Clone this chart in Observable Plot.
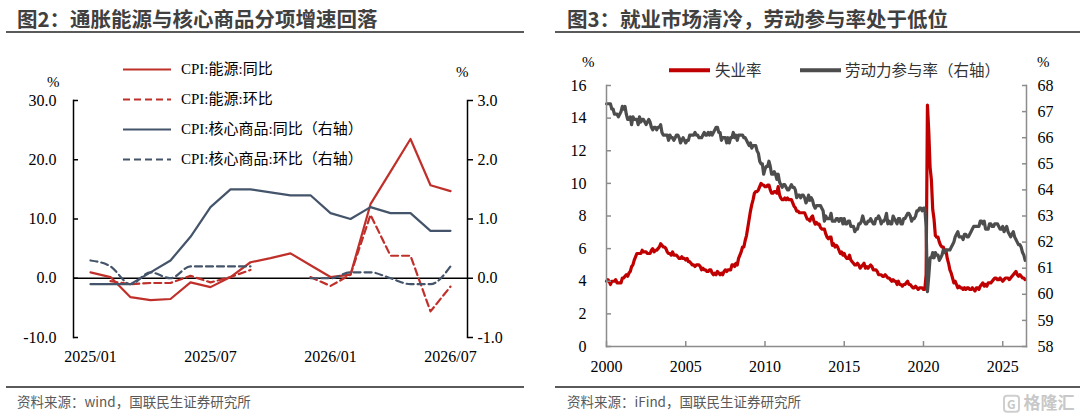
<!DOCTYPE html>
<html><head><meta charset="utf-8">
<script src="https://cdn.jsdelivr.net/npm/d3@7"></script>
<script src="https://cdn.jsdelivr.net/npm/@observablehq/plot@0.6"></script>
<style>
html,body{margin:0;padding:0;background:#fff;}
#wrap{position:relative;width:1080px;height:420px;overflow:hidden;background:#fff;font-family:"Noto Sans CJK SC","Noto Sans",sans-serif;}
.abs{position:absolute;white-space:nowrap;line-height:1;transform:translateY(-50%);}
.title{font-weight:700;font-size:20.5px;color:#404040;}
.hr{position:absolute;height:2px;background:#5a5a5a;}
.src{font-size:13.5px;color:#595959;}
.pct{font-family:"Liberation Serif",serif;font-size:15px;color:#000;}
.leg{display:flex;align-items:center;}
.legL{font-family:"Liberation Serif","Noto Sans CJK SC",serif;font-size:15px;color:#000;}
.legR{font-size:15.5px;color:#333;}
.chart{position:absolute;top:0;}
</style></head><body>
<div id="wrap"></div>
<script>
// ---------- Figure 2 data ----------
const months = ["2025/01","2025/02","2025/03","2025/04","2025/05","2025/06","2025/07","2025/08","2025/09","2025/10","2025/11","2025/12","2026/01","2026/02","2026/03","2026/04","2026/05","2026/06","2026/07"];
const energyYoY = [1.0, 0.2, -3.2, -3.7, -3.5, -0.7, -1.5, 0.2, 2.7, 3.4, 4.2, 2.2, 0.2, 0.6, 12.5, 18.0, 23.5, 15.7, 14.7];
const energyMoM = [null, -0.05, -0.10, -0.08, -0.08, 0.04, -0.07, 0.02, 0.14, null, null, 0.02, -0.13, 0.06, 1.07, 0.38, 0.38, -0.56, -0.14];
const coreYoY = [-0.1, -0.1, -0.1, 0.1, 0.3, 0.7, 1.2, 1.5, 1.5, 1.45, 1.4, 1.4, 1.1, 1.0, 1.2, 1.1, 1.1, 0.8, 0.8];
const coreMoM = [0.3, 0.2, -0.1, 0.1, 0.0, 0.2, 0.2, 0.2, 0.2, null, null, 0.0, 0.0, 0.1, 0.1, 0.0, -0.1, -0.1, 0.2];
const leftTicks2 = [-10, 0, 10, 20, 30];
const xTickLabels2 = ["2025/01", "2025/07", "2026/01", "2026/07"];
const legend2 = ["CPI:能源:同比", "CPI:能源:环比", "CPI:核心商品:同比（右轴）", "CPI:核心商品:环比（右轴）"];

// ---------- Figure 3 data (monthly, from 2000/01) ----------
const startYear3 = 2000;
const unrate = [
4.0,4.1,4.0,3.8,4.0,4.0,4.0,4.1,3.9,3.9,3.9,3.9,
4.2,4.2,4.3,4.4,4.3,4.5,4.6,4.9,5.0,5.3,5.5,5.7,
5.7,5.7,5.7,5.9,5.8,5.8,5.8,5.7,5.7,5.7,5.9,6.0,
5.8,5.9,5.9,6.0,6.1,6.3,6.2,6.1,6.1,6.0,5.8,5.7,
5.7,5.6,5.8,5.6,5.6,5.6,5.5,5.4,5.4,5.5,5.4,5.4,
5.3,5.4,5.2,5.2,5.1,5.0,5.0,4.9,5.0,5.0,5.0,4.9,
4.7,4.8,4.7,4.7,4.6,4.6,4.7,4.7,4.5,4.4,4.5,4.4,
4.6,4.5,4.4,4.5,4.4,4.6,4.7,4.6,4.7,4.7,4.7,5.0,
5.0,4.9,5.1,5.0,5.4,5.6,5.8,6.1,6.1,6.5,6.8,7.3,
7.8,8.3,8.7,9.0,9.4,9.5,9.5,9.6,9.8,10.0,9.9,9.9,
9.8,9.8,9.9,9.9,9.6,9.4,9.4,9.5,9.5,9.4,9.8,9.3,
9.1,9.0,9.0,9.1,9.0,9.1,9.0,9.0,9.0,8.8,8.6,8.5,
8.3,8.3,8.2,8.2,8.2,8.2,8.2,8.0,7.8,7.8,7.7,7.9,
8.0,7.7,7.5,7.6,7.5,7.5,7.3,7.2,7.2,7.2,6.9,6.7,
6.6,6.7,6.7,6.2,6.3,6.1,6.2,6.1,5.9,5.7,5.8,5.6,
5.7,5.5,5.4,5.4,5.6,5.3,5.2,5.1,5.0,5.0,5.1,5.0,
4.8,4.9,5.0,5.1,4.8,4.9,4.8,4.9,5.0,4.9,4.7,4.7,
4.7,4.6,4.4,4.4,4.4,4.3,4.3,4.4,4.3,4.2,4.2,4.1,
4.0,4.1,4.0,4.0,3.8,4.0,3.8,3.8,3.7,3.8,3.8,3.9,
4.0,3.8,3.8,3.7,3.6,3.6,3.7,3.6,3.5,3.6,3.6,3.6,
3.5,3.5,4.4,14.8,13.2,11.0,10.2,8.4,7.8,6.8,6.7,6.7,
6.4,6.2,6.1,6.1,5.8,5.9,5.4,5.1,4.7,4.5,4.2,3.9,
4.0,3.8,3.6,3.7,3.6,3.6,3.5,3.6,3.5,3.6,3.6,3.5,
3.5,3.6,3.5,3.4,3.6,3.6,3.5,3.7,3.8,3.9,3.7,3.8,
3.7,3.9,3.9,3.9,4.0,4.1,4.2,4.2,4.1,4.1,4.2,4.1,
4.0,4.1,4.2,4.2,4.2,4.1,4.2,4.3,4.4,4.5,4.6,4.4,
4.3,4.4,4.3,4.2,4.2,4.1
];
const lfpr = [
67.3,67.3,67.3,67.3,67.1,67.1,66.9,66.9,66.9,66.8,66.9,67.0,
67.2,67.1,67.2,66.9,66.7,66.7,66.8,66.5,66.8,66.7,66.7,66.7,
66.5,66.8,66.6,66.7,66.7,66.6,66.5,66.6,66.7,66.6,66.4,66.3,
66.4,66.4,66.3,66.4,66.4,66.5,66.2,66.1,66.1,66.1,66.1,65.9,
66.1,66.0,66.0,65.9,66.0,66.1,66.1,66.0,65.8,65.9,66.0,65.9,
65.8,65.9,65.9,66.1,66.1,66.1,66.1,66.2,66.1,66.1,66.0,66.0,
66.0,66.1,66.2,66.1,66.1,66.2,66.1,66.2,66.1,66.2,66.3,66.4,
66.4,66.2,66.2,65.9,66.0,66.0,66.0,65.8,66.0,65.8,66.0,66.0,
66.2,66.0,66.1,65.9,66.1,66.1,66.1,66.1,66.0,66.0,65.9,65.8,
65.7,65.8,65.6,65.7,65.7,65.7,65.5,65.4,65.1,65.0,65.0,64.6,
64.8,64.9,64.9,65.1,64.9,64.6,64.6,64.7,64.6,64.4,64.6,64.3,
64.2,64.1,64.2,64.2,64.1,64.0,64.0,64.1,64.2,64.1,64.1,64.0,
63.7,63.8,63.8,63.7,63.8,63.8,63.7,63.5,63.6,63.8,63.6,63.7,
63.6,63.4,63.3,63.4,63.4,63.4,63.4,63.3,63.2,62.8,63.0,62.9,
62.9,62.9,63.1,62.8,62.8,62.8,62.9,62.9,62.8,62.9,62.9,62.7,
62.9,62.7,62.7,62.8,62.8,62.6,62.6,62.6,62.4,62.5,62.5,62.7,
62.7,62.8,63.0,62.8,62.7,62.7,62.8,62.8,62.9,62.8,62.7,62.7,
62.9,62.9,63.0,62.9,62.7,62.8,62.8,62.9,63.1,62.7,62.8,62.7,
62.7,63.0,62.9,62.8,62.7,62.9,62.9,62.7,62.7,62.9,62.9,63.0,
63.1,63.1,63.0,62.8,62.9,62.9,63.0,63.2,63.2,63.3,63.3,63.2,
63.3,63.3,62.6,60.1,60.7,61.4,61.4,61.6,61.4,61.6,61.5,61.5,
61.3,61.4,61.5,61.7,61.6,61.7,61.7,61.7,61.7,61.8,61.9,62.0,
62.2,62.3,62.4,62.2,62.2,62.2,62.1,62.3,62.3,62.2,62.2,62.3,
62.4,62.5,62.6,62.6,62.6,62.6,62.6,62.8,62.8,62.7,62.8,62.5,
62.5,62.5,62.7,62.7,62.6,62.6,62.7,62.7,62.7,62.6,62.5,62.5,
62.6,62.4,62.5,62.6,62.4,62.3,62.2,62.3,62.4,62.2,62.1,62.0,
61.9,61.9,61.8,61.6,61.5,61.3
];
const uTicks3 = [0, 2, 4, 6, 8, 10, 12, 14, 16];
const lTicks3 = [58, 59, 60, 61, 62, 63, 64, 65, 66, 67, 68];
const yearTicks3 = [2000, 2005, 2010, 2015, 2020, 2025];
const legend3 = ["失业率", "劳动力参与率（右轴）"];

// ---------- Layout ----------
const wrap = document.getElementById("wrap");
function addDiv(cls, style, html) {
  const d = document.createElement("div");
  d.className = cls; d.setAttribute("style", style); d.innerHTML = html;
  wrap.appendChild(d); return d;
}

// ---------- Figure 2 ----------
const red2 = "#C0302B", blue2 = "#44546A";
const rows2 = months.map((m, i) => ({
  m,
  eY: energyYoY[i],
  eM: energyMoM[i] === null ? null : energyMoM[i] * 10,
  cY: coreYoY[i] * 10,
  cM: coreMoM[i] === null ? null : coreMoM[i] * 10
}));
const dash = "7,4";
const fig2 = Plot.plot({
  width: 540, height: 390,
  marginTop: 100, marginBottom: 53, marginLeft: 73, marginRight: 73,
  x: {type: "point", domain: months, padding: 0.47, label: null},
  y: {domain: [-10, 30], label: null},
  style: {fontFamily: '"Liberation Serif", serif', fontSize: "16px", color: "#000", background: "transparent", overflow: "visible"},
  marks: [
    Plot.ruleY([0], {stroke: "#000", strokeWidth: 1.6}),
    Plot.line(rows2, {x: "m", y: "eY", stroke: red2, strokeWidth: 2.2}),
    Plot.line(rows2, {x: "m", y: "eM", stroke: red2, strokeWidth: 2.2, strokeDasharray: dash}),
    Plot.line(rows2, {x: "m", y: "cY", stroke: blue2, strokeWidth: 2.2}),
    Plot.line(rows2, {x: "m", y: "cM", stroke: blue2, strokeWidth: 2.2, strokeDasharray: dash, curve: "monotone-x"}),
    Plot.frame({anchor: "left", stroke: "#000", strokeWidth: 1.5}),
    Plot.frame({anchor: "right", stroke: "#000", strokeWidth: 1.5}),
    Plot.axisY(leftTicks2, {anchor: "left", tickSize: -5, tickPadding: 22, strokeWidth: 1.5, tickFormat: d => d.toFixed(1), label: null}),
    Plot.axisY(leftTicks2, {anchor: "right", tickSize: 5, tickPadding: 5, strokeWidth: 1.5, tickFormat: d => (d / 10).toFixed(1), label: null}),
    Plot.axisX(xTickLabels2, {anchor: "bottom", tickSize: 0, tickPadding: 13, label: null})
  ]
});
const c2 = addDiv("chart", "left:0px;", "");
c2.style.transform = "none";
c2.appendChild(fig2);

addDiv("abs title", "left:17px;top:18px;", "图2：通胀能源与核心商品分项增速回落");
addDiv("hr", "left:6px;width:518px;top:31px;", "");
addDiv("abs pct", "left:47px;top:82px;", "%");
addDiv("abs pct", "left:456px;top:72px;", "%");
const leg2Y = [69, 99, 129, 159];
const leg2Style = [[red2, ""], [red2, dash], [blue2, ""], [blue2, dash]];
legend2.forEach((name, i) => {
  const [c, da] = leg2Style[i];
  addDiv("abs leg legL", `left:123px;top:${leg2Y[i]}px;`,
    `<svg width="48" height="8" style="display:block"><line x1="0" x2="48" y1="4" y2="4" stroke="${c}" stroke-width="2.2" ${da ? `stroke-dasharray="${da}"` : ""}/></svg><span style="margin-left:10px">${name}</span>`);
});
addDiv("hr", "left:6px;width:518px;top:386px;", "");
addDiv("abs src", "left:17px;top:402px;", "资料来源：wind，国联民生证券研究所");

// ---------- Figure 3 ----------
const red3 = "#C00000", gray3 = "#4D4D4D", axis3 = "#8C8C8C";
const rowsU = unrate.map((v, i) => ({t: startYear3 + i / 12, v}));
const rowsL = lfpr.map((v, i) => ({t: startYear3 + i / 12, v: (v - 58) * 1.6}));
const fig3 = Plot.plot({
  width: 540, height: 390,
  marginTop: 85, marginBottom: 44, marginLeft: 66, marginRight: 54,
  x: {domain: [2000, 2026.5], label: null},
  y: {domain: [0, 16], label: null},
  style: {fontFamily: '"Liberation Serif", serif', fontSize: "16px", color: "#000", background: "transparent", overflow: "visible"},
  marks: [
    Plot.line(rowsU, {x: "t", y: "v", stroke: red3, strokeWidth: 3.2, strokeLinejoin: "round"}),
    Plot.line(rowsL, {x: "t", y: "v", stroke: gray3, strokeWidth: 3.2, strokeLinejoin: "round"}),
    Plot.frame({anchor: "left", stroke: axis3, strokeWidth: 1.5}),
    Plot.frame({anchor: "right", stroke: axis3, strokeWidth: 1.5}),
    Plot.frame({anchor: "bottom", stroke: axis3, strokeWidth: 1.5}),
    Plot.axisY(uTicks3, {anchor: "left", tickSize: -5, tickPadding: 25, stroke: axis3, fill: "#000", strokeWidth: 1.5, tickFormat: d => String(d), label: null}),
    Plot.axisY(lTicks3.map(v => (v - 58) * 1.6), {anchor: "right", tickSize: -5, tickPadding: 16, stroke: axis3, fill: "#000", strokeWidth: 1.5, tickFormat: d => String(Math.round(58 + d / 1.6)), label: null}),
    Plot.axisX(yearTicks3, {anchor: "bottom", tickSize: -5, tickPadding: 19, stroke: axis3, fill: "#000", strokeWidth: 1.5, tickFormat: d => String(d), label: null})
  ]
});
const c3 = addDiv("chart", "left:540px;", "");
c3.appendChild(fig3);

addDiv("abs title", "left:567px;top:18px;", "图3：就业市场清冷，劳动参与率处于低位");
addDiv("hr", "left:555px;width:525px;top:31px;", "");
addDiv("abs pct", "left:582px;top:62px;", "%");
addDiv("abs pct", "left:1037px;top:62px;", "%");
addDiv("abs leg legR", "left:669px;top:70px;",
  `<svg width="41" height="8" style="display:block"><line x1="0" x2="41" y1="4" y2="4" stroke="${red3}" stroke-width="4"/></svg><span style="margin-left:5px">${legend3[0]}</span>`);
addDiv("abs leg legR", "left:800px;top:70px;",
  `<svg width="41" height="8" style="display:block"><line x1="0" x2="41" y1="4" y2="4" stroke="${gray3}" stroke-width="4"/></svg><span style="margin-left:4px">${legend3[1]}</span>`);
addDiv("hr", "left:555px;width:525px;top:386px;", "");
addDiv("abs src", "left:567px;top:402px;", "资料来源：iFind，国联民生证券研究所");
addDiv("abs", "left:1003px;top:403px;color:#c8c8c8;font-size:17px;font-weight:700;",
  `<span style="display:inline-block;border:2px solid #cfcfcf;border-radius:4px;font-size:12px;line-height:14px;padding:0 2px;vertical-align:middle">G</span> 格隆汇`);
</script>
</body></html>
